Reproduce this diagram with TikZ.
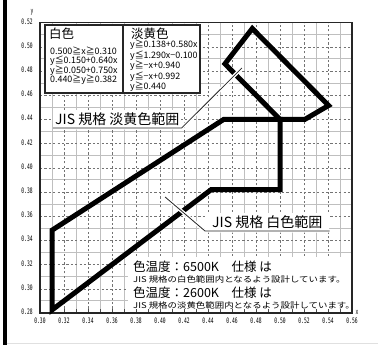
\documentclass[tikz,border=0pt]{standalone}
\usepackage{fontspec}
\setmainfont{Noto Sans CJK JP}
\newfontfamily\widejp[FakeStretch=1.18]{Noto Sans CJK JP}
\newfontfamily\tickfont[FakeStretch=0.62]{DejaVu Sans Mono}
\usetikzlibrary{calc}

\tikzset{
  gridsolid/.style={black!25, line width=0.9pt},
  griddash/.style={black!55, line width=0.5pt, dash pattern=on 2.2pt off 2.2pt},
  border/.style={black!85, line width=1.3pt},
  region/.style={black, line width=5pt, line join=miter},
  leader/.style={preaction={draw=white, line width=3.5pt}, black!85, line width=0.8pt},
  ticklabel/.style={font=\tickfont\fontsize{7.5}{7.5}\selectfont, inner sep=0pt},
  headtxt/.style={font=\fontsize{12.5}{12.5}\selectfont, inner sep=0pt, anchor=west},
  formtxt/.style={font=\fontsize{8.9}{8.9}\selectfont, inner sep=0pt, anchor=west},
  rangetxt/.style={font=\fontsize{14}{14}\selectfont, fill=white, inner xsep=2pt, inner ysep=2.5pt, anchor=south west},
  notebig/.style={font=\fontsize{12.5}{12.5}\selectfont, inner sep=0pt, anchor=west},
  notesmall/.style={font=\widejp\fontsize{8}{8}\selectfont, inner sep=0pt, anchor=west},
}

\begin{document}
\begin{tikzpicture}[x=1pt, y=1pt]
  \useasboundingbox (0,0) rectangle (378,345);
  \fill[white] (0,0) rectangle (378,345);
  \fill[black] (3,0) rectangle (6.5,345);
  \draw[black!12, line width=1.5pt] (6.5,1.7) -- (378,1.7);

  \begin{scope}[x=12pt, y=12.1pt, shift={(-320pt,-306.8pt)}]
    \foreach \i in {31,33,...,55} \draw[gridsolid] (\i,28) -- (\i,52);
    \foreach \j in {29,31,...,51} \draw[gridsolid] (30,\j) -- (56,\j);
    \foreach \i in {32,34,...,54} \draw[griddash] (\i,28) -- (\i,52);
    \foreach \j in {30,32,...,50} \draw[griddash] (30,\j) -- (56,\j);

    \fill[white] (37.33,28) rectangle (55.92,32.6);
    \foreach \i in {31,...,55} \draw[black!70, line width=0.5pt] (\i,28) -- (\i,28.3);
    \draw[border] (30,28) rectangle (56,52);

    \foreach \i in {30,32,...,56} \node[ticklabel] (xl\i) at (\i,27.34) {0.\i};
    \foreach \j in {28,30,...,52} \node[ticklabel, anchor=east] (yl\j) at (29.4,\j+0.1) {0.\j};
    \node[ticklabel] (xname) at (56.42,28.05) {x};
    \node[ticklabel] (yname) at (29.33,52.88) {y};

    \draw[region] (31,28.25) -- (31,34.84) -- (45.31,44) -- (50,44) -- (50,38.2) -- (44.27,38.2) -- cycle;
    \draw[region] (47.69,51.51) -- (54.05,45.15) -- (52.07,44) -- (50,44) -- (45.41,48.59) -- cycle;

    \coordinate (ytip) at (46.83,48.25);
    \coordinate (wtip) at (40.42,37.59);
  \end{scope}

  \draw[border, fill=white] (45,252) rectangle (200,320);
  \draw[border] (123,252) -- (123,320);

  \node[headtxt] (white) at (49,311) {白色};
  \node[formtxt] (w1) at (50,294.3) {0.500≧x≧0.310};
  \node[formtxt] (w2) at (50,284.3) {y≦0.150+0.640x};
  \node[formtxt] (w3) at (50,274.3) {y≧0.050+0.750x};
  \node[formtxt] (w4) at (50,265) {0.440≧y≧0.382};

  \node[headtxt] (yellow) at (131,311) {淡黄色};
  \node[formtxt] (y1) at (130,300) {y≧0.138+0.580x};
  \node[formtxt] (y2) at (130,289.5) {y≦1.290x−0.100};
  \node[formtxt] (y3) at (130,279) {y≧−x+0.940};
  \node[formtxt] (y4) at (130,268.5) {y≦−x+0.992};
  \node[formtxt] (y5) at (130,258) {y≧0.440};

  \node[rangetxt] (jisy) at (53,217) {JIS 規格 淡黄色範囲};
  \draw[leader] (jisy.south west) -- (jisy.south east) -- (ytip);
  \node[rangetxt, inner xsep=7pt] (jisw) at (205,114) {JIS 規格 白色範囲};
  \draw[leader] (jisw.south east) -- (jisw.south west) -- (wtip);

  \node[notebig] (n1) at (133,78) {色温度：6500K　仕様 は};
  \node[notesmall] (n2) at (133,66) {JIS 規格の白色範囲内となるよう設計しています。};
  \node[notebig] (n3) at (133,52) {色温度：2600K　仕様 は};
  \node[notesmall] (n4) at (133,40) {JIS 規格の淡黄色範囲内となるよう設計しています。};
\end{tikzpicture}
\end{document}
